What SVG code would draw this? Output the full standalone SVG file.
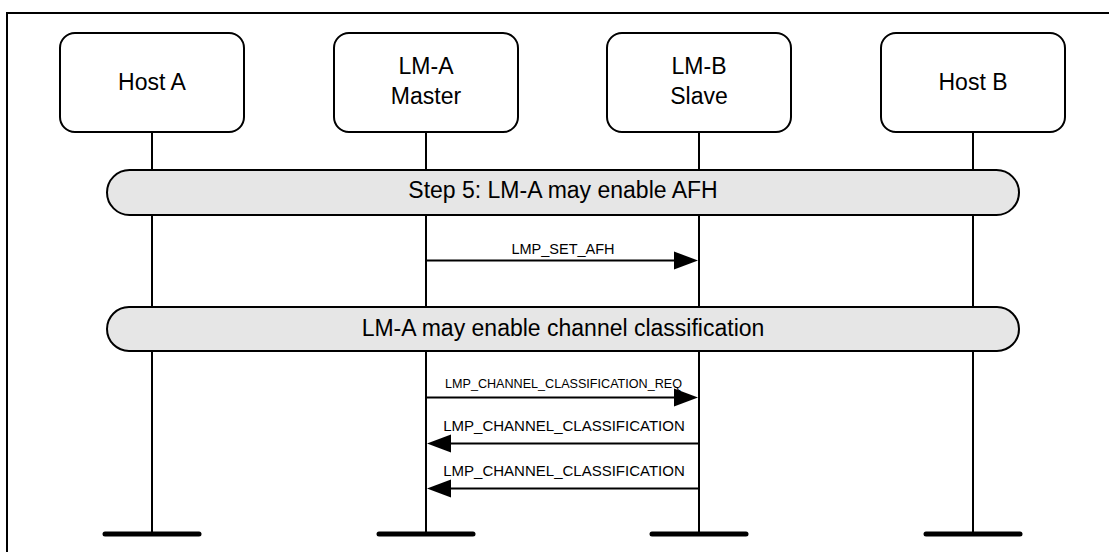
<svg xmlns="http://www.w3.org/2000/svg" width="1109" height="552" viewBox="0 0 1109 552">
<defs>
<style>
.frame{fill:none;stroke:#000;stroke-width:2}
.box{fill:#fff;stroke:#000;stroke-width:2}
.life{stroke:#000;stroke-width:2;fill:none}
.foot{stroke:#000;stroke-width:5;stroke-linecap:round}
.banner{fill:#e6e6e6;stroke:#000;stroke-width:2}
.msg{stroke:#000;stroke-width:2;fill:none}
.head{fill:#000}
text{font-family:"Liberation Sans",Arial,sans-serif;fill:#000;text-anchor:middle}
.t22{font-size:23px}
.tb{font-size:23px}
</style>
</defs>
<rect width="1109" height="552" fill="#fff"/>
<path class="frame" d="M7,560 V13 H1120"/>
<g id="connectors">
<line class="life" x1="152" y1="132" x2="152" y2="534"/>
<line class="life" x1="426" y1="132" x2="426" y2="534"/>
<line class="life" x1="699" y1="132" x2="699" y2="534"/>
<line class="life" x1="973" y1="132" x2="973" y2="534"/>
<line class="foot" x1="105" y1="534" x2="199" y2="534"/>
<line class="foot" x1="379" y1="534" x2="473" y2="534"/>
<line class="foot" x1="652" y1="534" x2="746" y2="534"/>
<line class="foot" x1="926" y1="534" x2="1020" y2="534"/>
<g id="msg1">
<line class="msg" x1="426" y1="260.5" x2="678" y2="260.5"/>
<polygon class="head" points="674,251.5 698,260.5 674,269.5"/>
<text x="563" y="253.5" style="font-size:14.5px">LMP_SET_AFH</text>
</g>
<g id="msg2">
<line class="msg" x1="426" y1="397.5" x2="678" y2="397.5"/>
<polygon class="head" points="674,388.5 698,397.5 674,406.5"/>
<text x="563.5" y="387.5" style="font-size:12.6px">LMP_CHANNEL_CLASSIFICATION_REQ</text>
</g>
<g id="msg3">
<line class="msg" x1="446" y1="443.5" x2="699" y2="443.5"/>
<polygon class="head" points="451,434.5 427,443.5 451,452.5"/>
<text x="564" y="431" style="font-size:15px">LMP_CHANNEL_CLASSIFICATION</text>
</g>
<g id="msg4">
<line class="msg" x1="446" y1="488.5" x2="699" y2="488.5"/>
<polygon class="head" points="451,479.5 427,488.5 451,497.5"/>
<text x="564" y="476" style="font-size:15px">LMP_CHANNEL_CLASSIFICATION</text>
</g>
</g>
<g id="hostA">
<rect class="box" x="60" y="33" width="184" height="99" rx="15"/>
<text class="t22" x="152" y="90">Host A</text>
</g>
<g id="lmA">
<rect class="box" x="334" y="33" width="184" height="99" rx="15"/>
<text class="t22" x="426" y="74">LM-A</text>
<text class="t22" x="426" y="104">Master</text>
</g>
<g id="lmB">
<rect class="box" x="607" y="33" width="184" height="99" rx="15"/>
<text class="t22" x="699" y="74">LM-B</text>
<text class="t22" x="699" y="104">Slave</text>
</g>
<g id="hostB">
<rect class="box" x="881" y="33" width="184" height="99" rx="15"/>
<text class="t22" x="973" y="90">Host B</text>
</g>
<g id="step5">
<rect class="banner" x="107" y="170" width="912" height="45" rx="22.5"/>
<text class="tb" x="563" y="198">Step 5: LM-A may enable AFH</text>
</g>
<g id="chanclass">
<rect class="banner" x="107" y="307" width="912" height="44" rx="22"/>
<text class="tb" x="563" y="336">LM-A may enable channel classification</text>
</g>
</svg>
